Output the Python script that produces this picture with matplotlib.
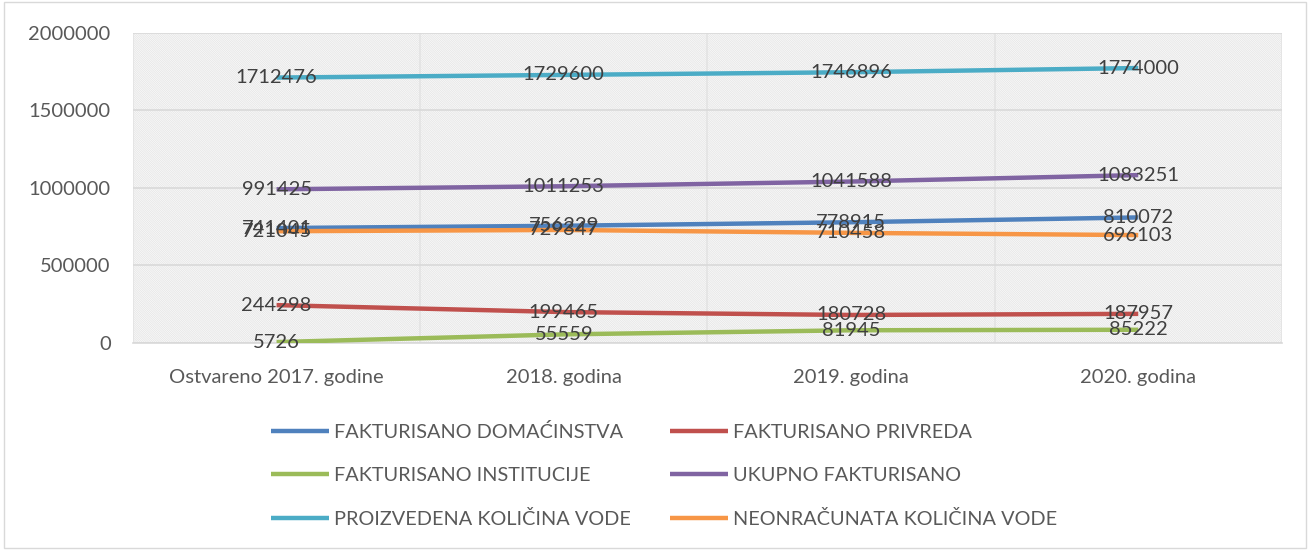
import numpy as np
import matplotlib
matplotlib.use('Agg')
import matplotlib.pyplot as plt
from matplotlib.patches import Rectangle

plt.rcParams['font.family'] = ['Lato', 'DejaVu Sans']
plt.rcParams['hatch.linewidth'] = 0.5

categories = ['Ostvareno 2017. godine', '2018. godina', '2019. godina', '2020. godina']
domacinstva = [741401, 756229, 778915, 810072]
privreda = [244298, 199465, 180728, 187957]
institucije = [5726, 55559, 81945, 85222]
ukupno = [991425, 1011253, 1041588, 1083251]
proizvedena = [1712476, 1729600, 1746896, 1774000]
neonracunata = [721045, 729347, 710458, 696103]

series = [
    ('FAKTURISANO DOMAĆINSTVA', domacinstva, '#4F81BD'),
    ('FAKTURISANO PRIVREDA', privreda, '#C0504D'),
    ('FAKTURISANO INSTITUCIJE', institucije, '#9BBB59'),
    ('UKUPNO FAKTURISANO', ukupno, '#8064A2'),
    ('PROIZVEDENA KOLIČINA VODE', proizvedena, '#4BACC6'),
    ('NEONRAČUNATA KOLIČINA VODE', neonracunata, '#F79646'),
]

fig = plt.figure(figsize=(13.1, 5.5), dpi=100)
ax = fig.add_axes([0.1015, 0.3764, 0.877, 0.5636])

# hatched plot background
ax.add_patch(Rectangle((0, 0), 1, 1, transform=ax.transAxes, facecolor='white',
                       edgecolor='#e2e2e2', hatch='\\' * 18, linewidth=0, zorder=0))

x = np.arange(len(categories))
handles = []
for name, vals, col in series:
    h, = ax.plot(x, vals, color=col, lw=3.2, label=name, solid_capstyle='butt', zorder=3)
    handles.append(h)
    for xi, v in zip(x, vals):
        ax.text(xi, v, str(v), ha='center', va='center', fontsize=14.5,
                color='#404040', zorder=4)

ax.set_xlim(-0.5, 3.5)
ax.set_ylim(0, 2000000)
ax.set_yticks([0, 500000, 1000000, 1500000, 2000000])
ax.set_yticklabels(['0', '500000', '1000000', '1500000', '2000000'])
ax.set_xticks(x)
ax.set_xticklabels(categories)
ax.set_xticks(np.arange(-0.5, 3.6, 0.5), minor=True)
ax.tick_params(axis='both', which='both', length=0, labelsize=14.5, colors='#595959')
ax.tick_params(axis='y', pad=16)
ax.tick_params(axis='x', pad=19)
ax.grid(axis='y', color='#d9d9d9', lw=1.2, zorder=1)
ax.grid(axis='x', which='minor', color='#e3e3e3', lw=1.2, zorder=1)
for s in ['left', 'right', 'top']:
    ax.spines[s].set_visible(False)
ax.spines['bottom'].set_color('#d9d9d9')
ax.spines['bottom'].set_linewidth(1.2)

# legend filled column by column, as in the original
order = [0, 2, 4, 1, 3, 5]
leg = fig.legend([handles[i] for i in order], [series[i][0] for i in order],
                 loc='center', bbox_to_anchor=(0.507, 0.136), ncol=2, frameon=False,
                 fontsize=14.3, handlelength=2.9, handletextpad=0.25,
                 columnspacing=2.0, labelspacing=1.3)
for t in leg.get_texts():
    t.set_color('#595959')

# outer border
fig.add_artist(Rectangle((0.003, 0.004), 0.994, 0.992, transform=fig.transFigure,
                         fill=False, edgecolor='#d9d9d9', lw=1))

fig.savefig('out.png', dpi=100)
